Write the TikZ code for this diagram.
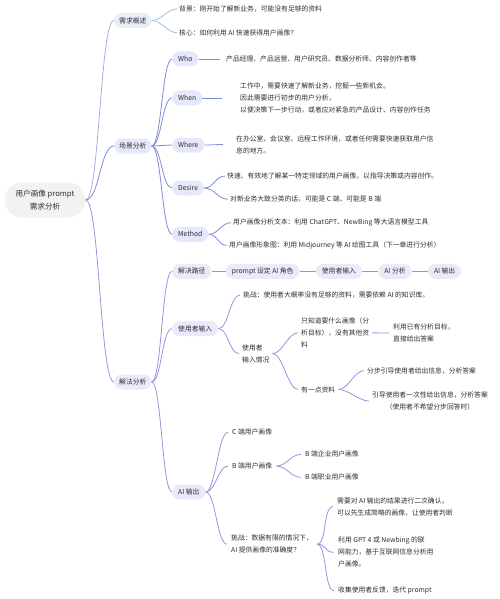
\documentclass[tikz,border=0pt]{standalone}
\usepackage{fontspec}
\usepackage{xcolor}
\usepackage{tikz}
\usetikzlibrary{positioning}
\newfontfamily\cjk{Noto Sans CJK SC}
\definecolor{inkgray}{RGB}{45,45,52}
\definecolor{rootfill}{RGB}{242,242,243}
\definecolor{reqfill}{RGB}{230,238,248}
\definecolor{scenefill}{RGB}{229,231,250}
\definecolor{solvefill}{RGB}{237,233,251}
\definecolor{rootline}{RGB}{158,178,228}
\definecolor{reqline}{RGB}{150,196,222}
\definecolor{sceneline}{RGB}{128,140,215}
\definecolor{solveline}{RGB}{162,142,222}
\tikzset{
  every node/.style = {text=inkgray, font=\cjk\fontsize{6.8}{12}\selectfont},
  rootbox/.style    = {fill=rootfill, rounded corners=17pt, align=center, inner xsep=11pt, inner ysep=6pt, minimum height=35pt, font=\cjk\fontsize{7.6}{13}\selectfont},
  topic/.style      = {anchor=west, rounded corners=7.5pt, inner xsep=5pt, inner ysep=3pt, minimum height=15pt},
  sub/.style        = {topic, inner xsep=6pt},
  leaf/.style       = {anchor=west, align=left, inner xsep=2pt, inner ysep=1pt},
  link/.style       = {to path={.. controls +(#1,0) and +(-#1,0) .. (\tikztotarget)}},
  link/.default     = 10,
  rootedge/.style   = {draw=rootline, line width=0.8pt},
  reqedge/.style    = {draw=reqline, line width=0.8pt},
  sceneedge/.style  = {draw=sceneline, line width=0.8pt},
  solveedge/.style  = {draw=solveline, line width=0.8pt},
}

\begin{document}
\begin{tikzpicture}[x=1pt, y=-1pt]
  \useasboundingbox (0,0) rectangle (500,599);
  \node[rootbox] (root) at (45,200) {用户画像 prompt\\需求分析};
  % 需求概述
  \node[topic, fill=reqfill] (req) at (114,20.5) {需求概述};
  \node[leaf] (bg) at (177,9) {背景：刚开始了解新业务，可能没有足够的资料};
  \node[leaf] (core) at (177,32.7) {核心：如何利用 AI 快速获得用户画像？};
  % 场景分析
  \node[topic, fill=scenefill] (scene) at (114,146) {场景分析};
  \node[sub, fill=scenefill] (who) at (172,59) {Who};
  \node[sub, fill=scenefill] (when) at (172,98) {When};
  \node[sub, fill=scenefill] (where) at (172,145) {Where};
  \node[sub, fill=scenefill] (desire) at (172,188) {Desire};
  \node[sub, fill=scenefill] (method) at (172,234.3) {Method};
  \node[leaf, inner xsep=6pt] (whot) at (220,59) {产品经理、产品运营、用户研究员、数据分析师、内容创作者等};
  \node[leaf, inner xsep=18pt] (whent) at (222,98) {工作中，需要快速了解新业务，挖掘一些新机会。\\因此需要进行初步的用户分析，\\以便决策下一步行动，或者应对紧急的产品设计、内容创作任务};
  \node[leaf, inner xsep=13pt] (wheret) at (223,144.5) {在办公室、会议室、远程工作环境，或者任何需要快速获取用户信\\息的地方。};
  \node[leaf] (desa) at (225,176) {快速、有效地了解某一特定领域的用户画像，以指导决策或内容创作。};
  \node[leaf] (desb) at (228,199.3) {对新业务大致分类的话，可能是 C 端、可能是 B 端};
  \node[leaf] (meta) at (231,222.7) {用户画像分析文本：利用 ChatGPT、NewBing 等大语言模型工具};
  \node[leaf] (metb) at (227,245.3) {用户画像形象图：利用 Midjourney 等 AI 绘图工具（下一章进行分析）};
  % 解法分析
  \node[topic, fill=solvefill] (solve) at (114,382) {解法分析};
  \node[sub, fill=solvefill] (path) at (172,271.3) {解决路径};
  \node[sub, fill=solvefill, right=14pt of path] (role) {prompt 设定 AI 角色};
  \node[sub, fill=solvefill, right=16pt of role] (given) {使用者输入};
  \node[sub, fill=solvefill, right=16pt of given] (analyse) {AI 分析};
  \node[sub, fill=solvefill, right=16pt of analyse] (output) {AI 输出};
  \node[sub, fill=solvefill] (input) at (172,328.7) {使用者输入};
  \node[leaf, inner xsep=3pt] (ina) at (240,295) {挑战：使用者大概率没有足够的资料，需要依赖 AI 的知识库。};
  \node[leaf, inner xsep=3pt] (inb) at (239,353.5) {使用者\\输入情况};
  \node[leaf, inner xsep=3pt] (inba) at (298,332.8) {只知道要什么画像（分\\析目标），没有其他资\\料};
  \node[leaf, inner xsep=4pt] (inbaa) at (389,333) {利用已有分析目标，\\直接给出答案};
  \node[leaf, inner xsep=3pt] (inbb) at (298,389.5) {有一点资料};
  \node[leaf, inner xsep=3pt] (inbba) at (364,370.7) {分步引导使用者给出信息，分析答案};
  \node[leaf, inner xsep=3pt, align=center] (inbbb) at (369,401) {引导使用者一次性给出信息，分析答案\\（使用者不希望分步回答时）};
  \node[sub, fill=solvefill] (aiout) at (172,492) {AI 输出};
  \node[leaf, inner xsep=4pt] (oa) at (228,432.3) {C 端用户画像};
  \node[leaf, inner xsep=4pt] (ob) at (228,466) {B 端用户画像};
  \node[leaf, inner xsep=4pt] (oba) at (301,454.3) {B 端企业用户画像};
  \node[leaf, inner xsep=4pt] (obb) at (301,477.3) {B 端职业用户画像};
  \node[leaf, inner xsep=4pt] (oc) at (227,544.2) {挑战：数据有限的情况下，\\AI 提供画像的准确度？};
  \node[leaf, inner xsep=4pt] (oca) at (333,506.5) {需要对 AI 输出的结果进行二次确认，\\可以先生成简略的画像，让使用者判断};
  \node[leaf, inner xsep=4pt] (ocb) at (334,552.3) {利用 GPT 4 或 Newbing 的联\\网能力，基于互联网信息分析用\\户画像。};
  \node[leaf, inner xsep=4pt] (occ) at (334,590.7) {收集使用者反馈，迭代 prompt};
  % connectors
  \draw[rootedge] (root.east) to[link=14] (req.west);
  \draw[sceneedge] (root.east) to[link=14] (scene.west);
  \draw[solveedge] (root.east) to[link=14] (solve.west);
  \draw[reqedge] (req.east) to[link] (bg.west); \draw[reqedge] (req.east) to[link] (core.west);
  \foreach \n in {who,when,where,desire,method} \draw[sceneedge] (scene.east) to[link] (\n.west);
  \draw[sceneedge] (who) -- (whot.west); \draw[sceneedge] (when) -- (whent.west);
  \draw[sceneedge] (where.east) to[link=6] (wheret.west);
  \draw[sceneedge] (desire.east) to[link] (desa.west); \draw[sceneedge] (desire.east) to[link] (desb.west);
  \draw[sceneedge] (method.east) to[link] (meta.west); \draw[sceneedge] (method.east) to[link] (metb.west);
  \foreach \n in {path,input,aiout} \draw[solveedge] (solve.east) to[link] (\n.west);
  \draw[solveedge] (path) -- (role); \draw[solveedge] (role) -- (given);
  \draw[solveedge] (given) -- (analyse); \draw[solveedge] (analyse) -- (output);
  \draw[solveedge] (input.east) to[link] (ina.west); \draw[solveedge] (input.east) to[link] (inb.west);
  \draw[solveedge] (inb.east) to[link] (inba.west); \draw[solveedge] (inb.east) to[link] (inbb.west);
  \draw[solveedge] (inba) -- (inbaa);
  \draw[solveedge] (inbb.east) to[link] (inbba.west); \draw[solveedge] (inbb.east) to[link] (inbbb.west);
  \foreach \n in {oa,ob,oc} \draw[solveedge] (aiout.east) to[link] (\n.west);
  \draw[solveedge] (ob.east) to[link] (oba.west); \draw[solveedge] (ob.east) to[link] (obb.west);
  \foreach \n in {oca,ocb,occ} \draw[solveedge] (oc.east) to[link] (\n.west);
\end{tikzpicture}
\end{document}
